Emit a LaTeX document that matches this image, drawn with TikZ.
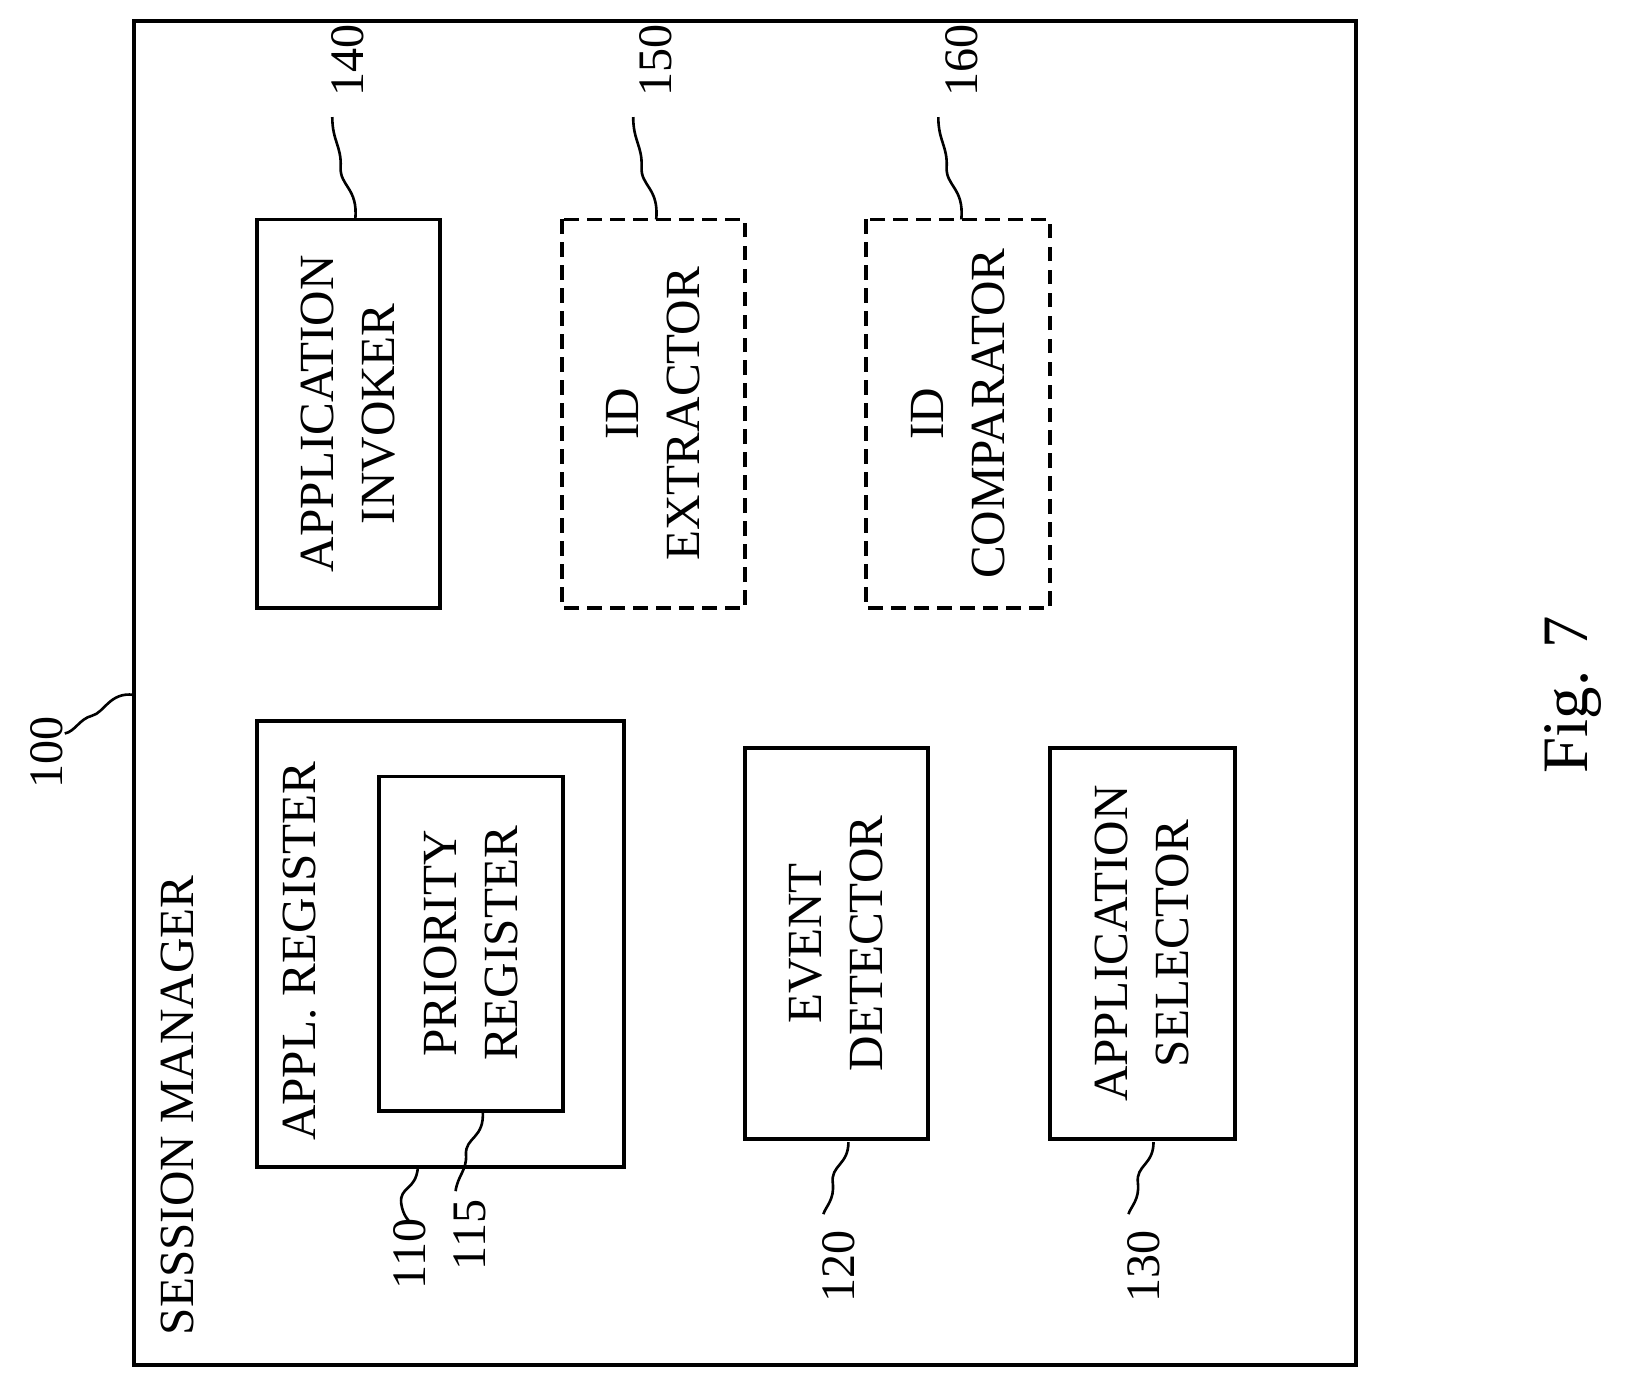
\documentclass[tikz,border=0pt]{standalone}
\usepackage{fontspec}
\setmainfont{Liberation Serif}
\begin{document}
\begin{tikzpicture}[x=1pt,y=-1pt,
  box/.style={draw,line width=3.5pt,inner sep=0pt},
  dbox/.style={draw,line width=3.5pt,dash pattern=on 14pt off 8pt,inner sep=0pt},
  lab/.style={rotate=90,font=\fontsize{47}{58}\selectfont,align=center,inner sep=0pt},
  num/.style={rotate=90,font=\fontsize{46}{50}\selectfont,inner sep=0pt},
  lead/.style={line width=2.5pt}]
\useasboundingbox (0,0) rectangle (1560,1320);
\draw[line width=4pt] (128,20) rectangle (1298,1306);
\node[lab,anchor=west] (sm) at (170,1278) {SESSION MANAGER};
% boxes
\draw[box] (246,690) rectangle (597,1117);
\node[lab,anchor=west] (ar) at (287,1092) {APPL. REGISTER};
\draw[box] (363,743) rectangle (539,1063);
\node[lab] (pr) at (451,903) {PRIORITY\\REGISTER};
\draw[box] (713,716) rectangle (888,1090);
\node[lab] (ed) at (800,903) {EVENT\\DETECTOR};
\draw[box] (1005,716) rectangle (1182,1090);
\node[lab] (as) at (1093,903) {APPLICATION\\SELECTOR};
\draw[box] (246,210) rectangle (421,582);
\node[lab] (ai) at (333,396) {APPLICATION\\INVOKER};
\draw[dbox] (538,210) rectangle (713,582);
\node[lab] (ie) at (625,396) {ID\\EXTRACTOR};
\draw[dbox] (829,210) rectangle (1005,582);
\node[lab] (ic) at (917,396) {ID\\COMPARATOR};
% numbers
\node[num] (n140) at (333,58) {140};
\node[num] (n150) at (628,58) {150};
\node[num] (n160) at (920,58) {160};
\node[num] (n100) at (45,720) {100};
\node[num] (n110) at (392,1200) {110};
\node[num] (n115) at (450,1182) {115};
\node[num] (n120) at (803,1212) {120};
\node[num] (n130) at (1095,1212) {130};
% leaders
\draw[lead] (340,210) .. controls (343,180) and (325,178) .. (326,160) .. controls (327,140) and (318,135) .. (318,112);
\draw[lead] (628,210) .. controls (631,180) and (613,178) .. (614,160) .. controls (615,140) and (606,135) .. (606,112);
\draw[lead] (920,210) .. controls (923,180) and (905,178) .. (906,160) .. controls (907,140) and (898,135) .. (898,112);
\draw[lead] (128,665) .. controls (105,662) and (100,682) .. (88,685) .. controls (76,688) and (72,700) .. (62,702);
\draw[lead] (400,1117) .. controls (398,1140) and (382,1135) .. (384,1152) .. controls (386,1165) and (392,1168) .. (392,1170);
\draw[lead] (462,1063) .. controls (464,1090) and (445,1088) .. (446,1105) .. controls (447,1120) and (438,1125) .. (436,1140);
\draw[lead] (812,1093) .. controls (812,1115) and (795,1115) .. (797,1132) .. controls (799,1148) and (790,1155) .. (788,1162);
\draw[lead] (1104,1093) .. controls (1104,1115) and (1087,1115) .. (1089,1132) .. controls (1091,1148) and (1082,1155) .. (1080,1162);
\node[rotate=90,font=\fontsize{62}{66}\selectfont,inner sep=0pt] (fig) at (1505,665) {Fig. 7};
\end{tikzpicture}
\end{document}
